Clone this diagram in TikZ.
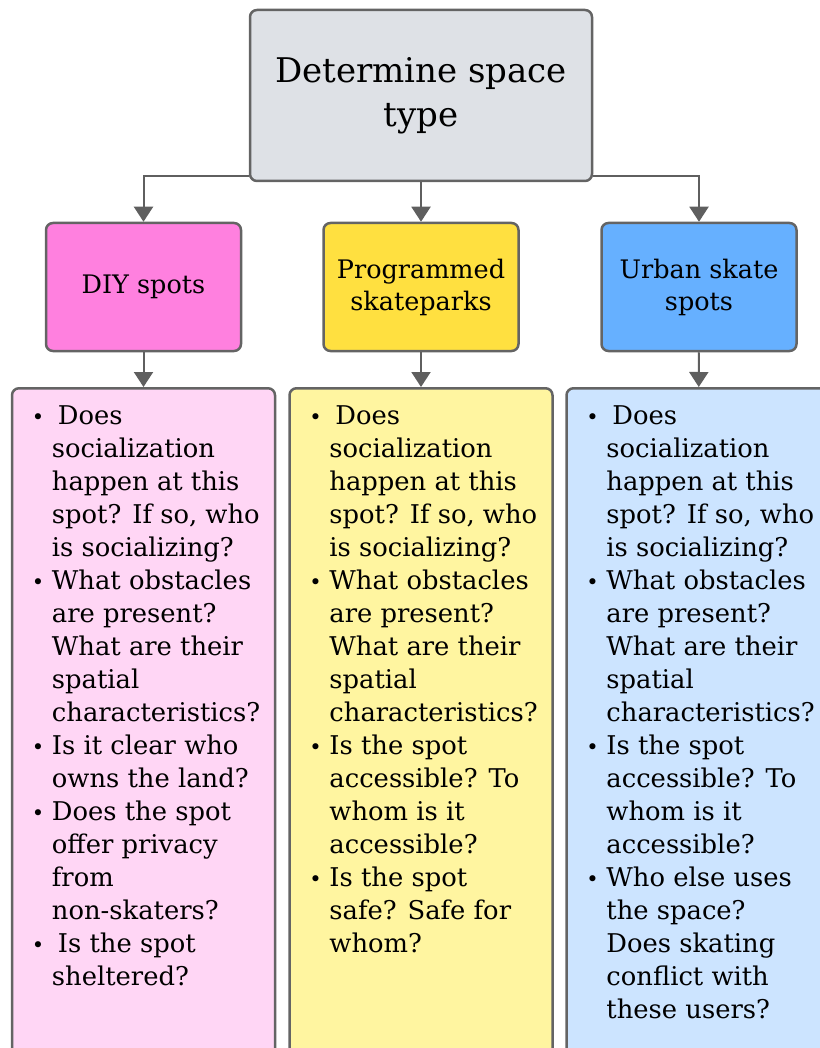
\documentclass[tikz,border=0pt]{standalone}
\usepackage{fontspec}
\setmainfont{DejaVu Serif}
\usepackage{xcolor}
\definecolor{spline}{RGB}{95,95,95}
\definecolor{spedge}{RGB}{100,100,100}
\definecolor{spgray}{RGB}{222,225,230}
\definecolor{sppink}{RGB}{255,128,223}
\definecolor{spgold}{RGB}{255,224,64}
\definecolor{spblue}{RGB}{102,176,255}
\definecolor{sppinklt}{RGB}{255,214,245}
\definecolor{spgoldlt}{RGB}{255,245,160}
\definecolor{spbluelt}{RGB}{204,228,255}
\usetikzlibrary{arrows.meta,positioning,calc}
\newcommand{\qdot}{{\fontsize{21}{33}\selectfont\textbullet}}

\begin{document}
\begin{tikzpicture}[
  x=1pt, y=1pt,
  headbox/.style={
    rectangle, rounded corners=7pt,
    minimum width=342pt, minimum height=171pt,
    draw=spedge, line width=2.5pt,
    fill=spgray,
    font=\fontsize{34}{44}\selectfont,
    align=center
  },
  typebox/.style={
    rectangle, rounded corners=7pt,
    minimum width=195pt, minimum height=128pt,
    draw=spedge, line width=2.5pt,
    font=\fontsize{25.5}{32}\selectfont,
    align=center
  },
  listbox/.style={
    rectangle, rounded corners=7pt,
    minimum width=263pt, minimum height=700pt,
    draw=spedge, line width=2.5pt,
    anchor=north
  },
  qtext/.style={
    anchor=north west, inner sep=0pt,
    font=\fontsize{25.8}{33}\selectfont
  },
  conn/.style={-{Triangle[length=15pt,width=19pt]}, line width=2pt, draw=spline}
]
\useasboundingbox (0,0) rectangle (819,-1048);

% top level
\node[headbox] (top) at (421,-95.5) {Determine space\\type};

% space types
\node[typebox, fill=sppink] (diy)   at (143.5,-287) {DIY spots};
\node[typebox, fill=spgold] (park)  at (421,-287)   {Programmed\\skateparks};
\node[typebox, fill=spblue] (urban) at (699,-287)   {Urban skate\\spots};

\draw[conn] ([yshift=6pt]top.south west) -| (diy);
\draw[conn] (top) -- (park);
\draw[conn] ([yshift=6pt]top.south east) -| (urban);

% question lists
\node[listbox, fill=sppinklt] (qdiy)   at (143.5,-387) {};
\node[listbox, fill=spgoldlt] (qpark)  at (421,-387)   {};
\node[listbox, fill=spbluelt] (qurban) at (698,-387)   {};

\draw[conn] (diy) -- (qdiy);
\draw[conn] (park) -- (qpark);
\draw[conn] (urban) -- (qurban);

\node[qtext] (tdiy) at ([xshift=21pt,yshift=-14pt]qdiy.north west) {%
\begin{tabular}{@{}p{20pt}@{}l@{}}
\qdot & \hspace{6pt}Does\\
 & socialization\\
 & happen at this\\
 & spot? If so, who\\
 & is socializing?\\
\qdot & What obstacles\\
 & are present?\\
 & What are their\\
 & spatial\\
 & characteristics?\\
\qdot & Is it clear who\\
 & owns the land?\\
\qdot & Does the spot\\
 & offer privacy\\
 & from\\
 & non-skaters?\\
\qdot & \hspace{6pt}Is the spot\\
 & sheltered?
\end{tabular}};

\node[qtext] (tpark) at ([xshift=21pt,yshift=-14pt]qpark.north west) {%
\begin{tabular}{@{}p{20pt}@{}l@{}}
\qdot & \hspace{6pt}Does\\
 & socialization\\
 & happen at this\\
 & spot? If so, who\\
 & is socializing?\\
\qdot & What obstacles\\
 & are present?\\
 & What are their\\
 & spatial\\
 & characteristics?\\
\qdot & Is the spot\\
 & accessible? To\\
 & whom is it\\
 & accessible?\\
\qdot & Is the spot\\
 & safe? Safe for\\
 & whom?
\end{tabular}};

\node[qtext] (turban) at ([xshift=21pt,yshift=-14pt]qurban.north west) {%
\begin{tabular}{@{}p{20pt}@{}l@{}}
\qdot & \hspace{6pt}Does\\
 & socialization\\
 & happen at this\\
 & spot? If so, who\\
 & is socializing?\\
\qdot & What obstacles\\
 & are present?\\
 & What are their\\
 & spatial\\
 & characteristics?\\
\qdot & Is the spot\\
 & accessible? To\\
 & whom is it\\
 & accessible?\\
\qdot & Who else uses\\
 & the space?\\
 & Does skating\\
 & conflict with\\
 & these users?
\end{tabular}};
\end{tikzpicture}
\end{document}
